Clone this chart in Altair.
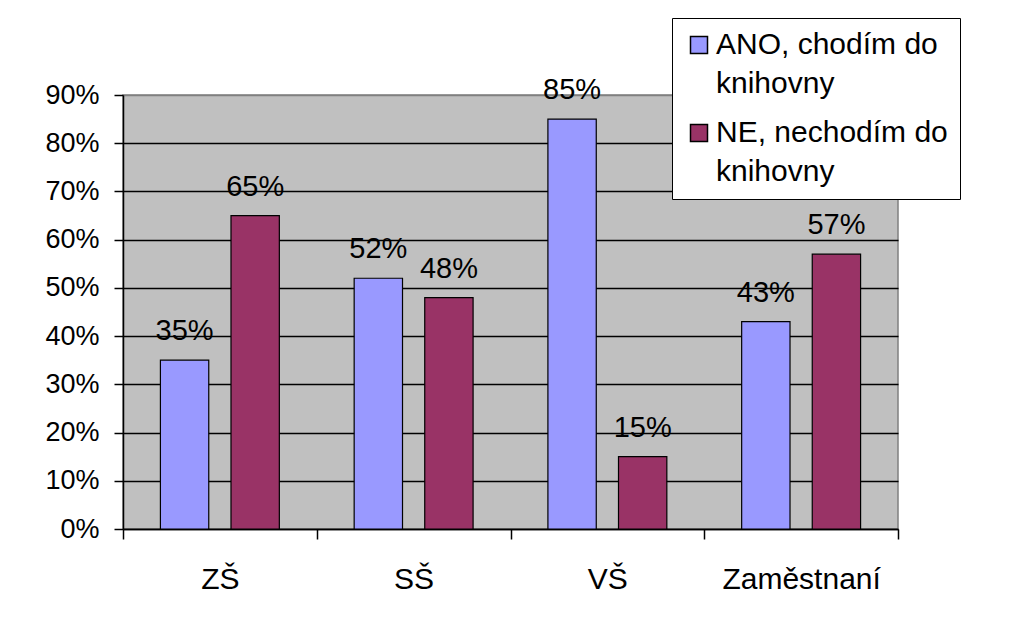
import altair as alt
import pandas as pd

categories = ["ZŠ", "SŠ", "VŠ", "Zaměstnaní"]
series = ["ANO, chodím do knihovny", "NE, nechodím do knihovny"]
ano_values = [0.35, 0.52, 0.85, 0.43]
ne_values = [0.65, 0.48, 0.15, 0.57]
colors = ["#9999FF", "#993366"]
y_ticks = [0, 0.1, 0.2, 0.3, 0.4, 0.5, 0.6, 0.7, 0.8, 0.9]

rows = []
for c, a, n in zip(categories, ano_values, ne_values):
    rows.append({"category": c, "series": series[0], "value": a})
    rows.append({"category": c, "series": series[1], "value": n})
df = pd.DataFrame(rows)

FONT = "Liberation Sans"
FS = 27

base = alt.Chart(df).encode(
    x=alt.X(
        "category:N",
        sort=categories,
        scale=alt.Scale(paddingInner=0, paddingOuter=0),
        axis=alt.Axis(
            title=None, labelAngle=0, tickBand="extent", tickSize=10,
            labelPadding=25, domainColor="black", tickColor="black",
            labelFontSize=30, labelColor="black", labelBaseline="top",
            labelFont=FONT, grid=False, domainWidth=1.5, tickWidth=1.5,
        ),
    ),
    xOffset=alt.XOffset(
        "series:N", sort=series,
        scale=alt.Scale(paddingInner=0.315, paddingOuter=0.53),
    ),
    y=alt.Y(
        "value:Q",
        scale=alt.Scale(domain=[0, 0.9], nice=False),
        axis=alt.Axis(
            values=y_ticks, format=".0%", title=None, tickSize=9,
            labelPadding=15, domainColor="black", tickColor="black",
            labelFontSize=FS, labelColor="black", labelFont=FONT,
            grid=True, gridWidth=1.5, domainWidth=1.5, tickWidth=1.5,
            gridColor=alt.condition("datum.value > 0.85", alt.value("#808080"), alt.value("black")),
        ),
    ),
)

bars = base.mark_bar(stroke="black", strokeWidth=1.2).encode(
    color=alt.Color(
        "series:N",
        scale=alt.Scale(domain=series, range=colors),
        legend=alt.Legend(
            title=None, orient="none", legendX=549, legendY=-77,
            labelExpr="split(replace(datum.label, ' knihovny', '|knihovny'), '|')",
            labelFontSize=30, labelFont=FONT, labelColor="black",
            labelLimit=400, labelOffset=2, labelBaseline="middle",
            symbolType="square", symbolSize=289,
            symbolStrokeColor="black", symbolStrokeWidth=1.5,
            padding=12, rowPadding=19, strokeColor="black",
            fillColor="white", cornerRadius=0,
        ),
    )
)

labels = base.mark_text(
    baseline="alphabetic", dy=-20, fontSize=29, font=FONT, color="black"
).encode(text=alt.Text("value:Q", format=".0%"))

chart = (
    alt.layer(bars, labels)
    .properties(
        width=775, height=434,
        padding={"left": 115, "top": 87, "right": 107, "bottom": 87},
        autosize=alt.AutoSizeParams(type="none"),
        background="white",
        view=alt.ViewBackground(fill="#C0C0C0", stroke="#808080", strokeWidth=1.5),
    )
    .configure_legend(strokeWidth=1.5)
    .configure(font=FONT, style={"guide-label": {"lineHeight": 39}})
)

chart.save("out.html", embed_options={"renderer": "svg", "actions": False})
